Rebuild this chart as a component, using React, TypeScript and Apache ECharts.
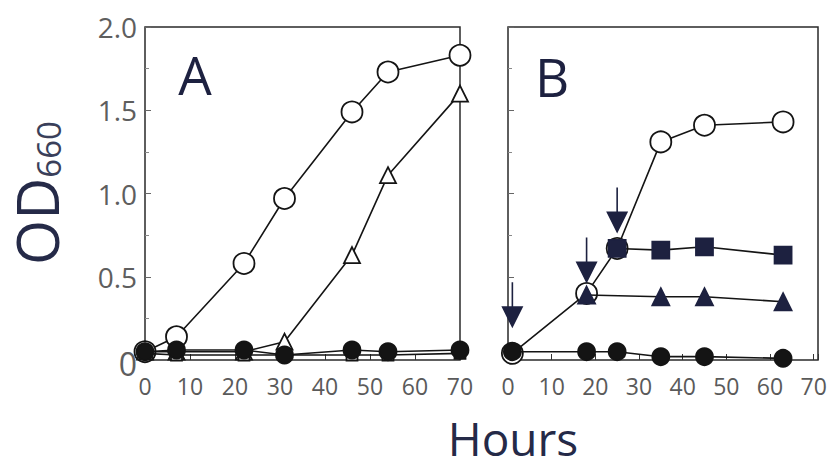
import React, { useEffect, useRef } from "react";
import * as echarts from "echarts";

// Panel A
const hoursA = [0, 7, 22, 31, 46, 54, 70];
const aOpenCircle = [0.05, 0.14, 0.58, 0.97, 1.49, 1.73, 1.83];
const aOpenTriangle = [0.05, 0.05, 0.05, 0.11, 0.63, 1.11, 1.6];
const aOpenSquare = [0.04, 0.03, 0.03, 0.03, 0.03, 0.03, 0.04];
const aFilledCircle = [0.05, 0.06, 0.06, 0.03, 0.06, 0.05, 0.06];

// Panel B
const hoursB = [1, 18, 25, 35, 45, 63];
const bOpenCircle = [0.04, 0.4, 0.67, 1.31, 1.41, 1.43];
const bFilledCircle = [0.05, 0.05, 0.05, 0.02, 0.02, 0.01];
const hoursBSquare = [25, 35, 45, 63];
const bFilledSquare = [0.67, 0.66, 0.68, 0.63];
const hoursBTriangle = [18, 35, 45, 63];
const bFilledTriangle = [0.39, 0.38, 0.38, 0.35];
const arrowHours = [1, 18, 25];
const arrowTips = [0.19, 0.46, 0.76];

const xTicks = [0, 10, 20, 30, 40, 50, 60, 70];
const yTicks = [0, 0.5, 1.0, 1.5, 2.0];

const pair = (xs: number[], ys: number[]) => xs.map((x, i) => [x, ys[i]]);

const INK = "#141414";
const NAVY = "#1d2140";
const ARROW_PATH =
  "path://M10.2,0 L11.8,0 L11.8,24 L22,24 L11,46 L0,24 L10.2,24 Z";

export default function App() {
  const ref = useRef<HTMLDivElement>(null);
  useEffect(() => {
    if (!ref.current) return;
    const chart = echarts.init(ref.current, undefined, { renderer: "svg" });
    const font = "Open Sans";
    const xAxisBase = (gridIndex: number, max: number) => ({
      type: "value",
      gridIndex,
      min: 0,
      max,
      interval: 10,
      axisLine: { show: false },
      axisTick: { show: true, inside: true, length: 6, lineStyle: { color: "#333", width: 1 } },
      splitLine: { show: false },
      axisLabel: {
        show: true,
        fontFamily: font,
        fontSize: 23,
        color: "#5a5a5a",
        margin: 14,
        customValues: xTicks,
        formatter: (v: number) => String(v),
      },
    });
    const yAxisBase = (gridIndex: number, showLabel: boolean) => ({
      type: "value",
      gridIndex,
      min: 0,
      max: 2,
      interval: 0.5,
      axisLine: { show: false },
      axisTick: { show: true, inside: true, length: 6, lineStyle: { color: "#666", width: 1 } },
      minorTick: { show: true, splitNumber: 2, length: 4, lineStyle: { color: "#888" } },
      splitLine: { show: false },
      axisLabel: {
        show: showLabel,
        fontFamily: font,
        fontSize: 28,
        color: "#5e5e5e",
        margin: 8,
        formatter: (v: number) =>
          yTicks.includes(v) ? (v === 0 ? "{z|0}" : v.toFixed(1)) : "",
        rich: { z: { fontFamily: font, fontSize: 32, color: "#5e5e5e", padding: [6, 0, 0, 0] } },
      },
    });
    const lineSeries = (
      xi: number,
      data: number[][],
      symbol: string,
      size: number,
      fill: string,
      border: string,
      z: number
    ) => ({
      type: "line",
      xAxisIndex: xi,
      yAxisIndex: xi,
      data,
      symbol,
      symbolSize: size,
      showAllSymbol: true,
      clip: false,
      z,
      lineStyle: { color: INK, width: 1.6 },
      itemStyle: { color: fill, borderColor: border, borderWidth: 1.8, opacity: 1 },
    });

    chart.setOption({
      animation: false,
      backgroundColor: "#ffffff",
      grid: [
        { left: 145, right: 376, top: 27, bottom: 108, show: true, borderColor: "#2a2a2a", borderWidth: 1.5, backgroundColor: "transparent" },
        { left: 508, right: 18, top: 27, bottom: 108, show: true, borderColor: "#2a2a2a", borderWidth: 1.5, backgroundColor: "transparent" },
      ],
      xAxis: [xAxisBase(0, 70), xAxisBase(1, 71)],
      yAxis: [yAxisBase(0, true), yAxisBase(1, false)],
      graphic: [
        {
          type: "text",
          x: 195,
          y: 74,
          style: { text: "A", font: `53px ${font}`, fill: NAVY, align: "center", verticalAlign: "middle" },
        },
        {
          type: "text",
          x: 552,
          y: 76,
          style: { text: "B", font: `53px ${font}`, fill: NAVY, align: "center", verticalAlign: "middle" },
        },
        {
          type: "text",
          x: 513,
          y: 438,
          style: { text: "Hours", font: `46px ${font}`, lineHeight: 46, fill: "#252a48", align: "center", verticalAlign: "middle" },
        },
        {
          type: "text",
          x: 37,
          y: 193,
          rotation: Math.PI / 2,
          style: {
            text: "{a|OD}{b|660}",
            align: "center",
            verticalAlign: "middle",
            fill: "#252a48",
            rich: {
              a: { fontFamily: font, fontSize: 58, fill: "#252a48", verticalAlign: "bottom", lineHeight: 56 },
              b: { fontFamily: font, fontSize: 33, fill: "#3a3f5a", verticalAlign: "bottom", lineHeight: 42 },
            },
          },
        },
      ],
      series: [
        lineSeries(0, pair(hoursA, aOpenCircle), "circle", 21, "#ffffff", INK, 2),
        lineSeries(0, pair(hoursA, aOpenTriangle), "triangle", 16, "#ffffff", INK, 3),
        lineSeries(0, pair(hoursA, aOpenSquare), "rect", 11, "#ffffff", INK, 4),
        lineSeries(0, pair(hoursA, aFilledCircle), "circle", 17, INK, INK, 5),
        lineSeries(1, pair(hoursB, bOpenCircle), "circle", 21, "#ffffff", INK, 2),
        lineSeries(1, pair(hoursBTriangle, bFilledTriangle), "triangle", 17, NAVY, NAVY, 3),
        lineSeries(1, pair(hoursBSquare, bFilledSquare), "rect", 17, NAVY, NAVY, 4),
        lineSeries(1, pair(hoursB, bFilledCircle), "circle", 17, INK, INK, 5),
        {
          type: "scatter",
          xAxisIndex: 1,
          yAxisIndex: 1,
          data: pair(arrowHours, arrowTips),
          symbol: ARROW_PATH,
          symbolSize: [22, 46],
          symbolOffset: [0, -23],
          symbolKeepAspect: false,
          clip: false,
          z: 6,
          itemStyle: { color: NAVY, opacity: 1 },
        },
      ],
    });
    return () => chart.dispose();
  }, []);
  return <div ref={ref} style={{ width: 836, height: 468, position: "absolute", left: 0, top: 0 }} />;
}
